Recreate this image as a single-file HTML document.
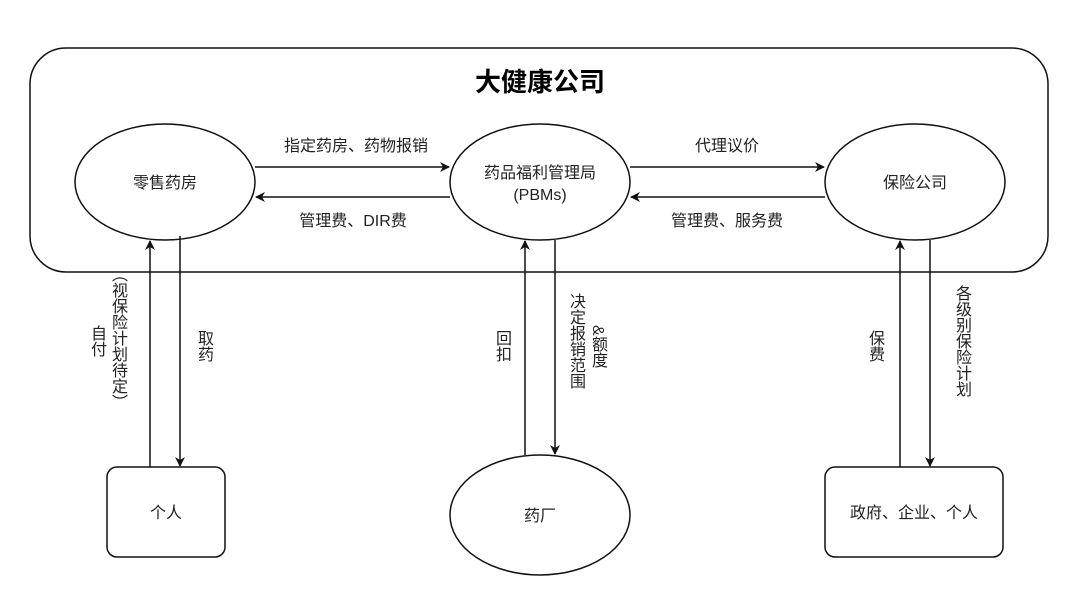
<!DOCTYPE html>
<html><head><meta charset="utf-8"><style>
body{margin:0;background:#fff;}
.v{position:absolute;writing-mode:vertical-rl;font:16px "Liberation Sans","Noto Sans CJK SC",sans-serif;color:#222;line-height:18px;}
</style></head><body>
<div style="position:relative;width:1080px;height:604px;overflow:hidden">
<svg width="1080" height="604" style="position:absolute;left:0;top:0" font-family="Liberation Sans, Noto Sans CJK SC, sans-serif">
<defs><marker id="a" markerWidth="10" markerHeight="10" refX="9" refY="5" orient="auto" markerUnits="userSpaceOnUse"><path d="M0,0 L10,5 L0,10 L3,5 Z" fill="#111"/></marker></defs>
<g fill="#fff" stroke="#111" stroke-width="1.5">
<rect x="30" y="48" width="1018" height="224" rx="36"/>
<ellipse cx="165" cy="182" rx="90" ry="58"/>
<ellipse cx="540" cy="182" rx="90" ry="58"/>
<ellipse cx="915" cy="182" rx="90" ry="58"/>
<rect x="107" y="467" width="118" height="90" rx="10"/>
<ellipse cx="540" cy="515" rx="90" ry="60"/>
<rect x="825" y="467" width="178" height="90" rx="10"/>
</g>
<g stroke="#111" stroke-width="1.5" marker-end="url(#a)">
<line x1="255" y1="167" x2="449" y2="167"/>
<line x1="450" y1="197" x2="256" y2="197"/>
<line x1="630" y1="167" x2="824" y2="167"/>
<line x1="825" y1="197" x2="631" y2="197"/>
<line x1="150" y1="467" x2="150" y2="241"/>
<line x1="180" y1="236" x2="180" y2="466"/>
<line x1="525" y1="455" x2="525" y2="241"/>
<line x1="555" y1="240" x2="555" y2="454"/>
<line x1="900" y1="467" x2="900" y2="241"/>
<line x1="930" y1="240" x2="930" y2="466"/>
</g>
<g font-size="16" fill="#222" text-anchor="middle">
<text x="540" y="91" font-size="26" font-weight="bold" fill="#000">大健康公司</text>
<text x="165" y="188">零售药房</text>
<text x="540" y="178">药品福利管理局</text>
<text x="540" y="200">(PBMs)</text>
<text x="915" y="188">保险公司</text>
<text x="356" y="151">指定药房、药物报销</text>
<text x="353" y="226">管理费、DIR费</text>
<text x="727" y="151">代理议价</text>
<text x="727" y="226">管理费、服务费</text>
<text x="166" y="518">个人</text>
<text x="540" y="521">药厂</text>
<text x="914" y="518">政府、企业、个人</text>
</g>
</svg>
<div class="v" style="left:87px;top:325px">自付</div>
<div class="v" style="left:108px;top:266px">（视保险计划待定）</div>
<div class="v" style="left:194px;top:330px">取药</div>
<div class="v" style="left:492px;top:330px">回扣</div>
<div class="v" style="left:566px;top:293px">决定报销范围</div>
<div class="v" style="left:588px;top:325px">&amp;额度</div>
<div class="v" style="left:865px;top:330px">保费</div>
<div class="v" style="left:952px;top:285px">各级别保险计划</div>
</div>
</body></html>
